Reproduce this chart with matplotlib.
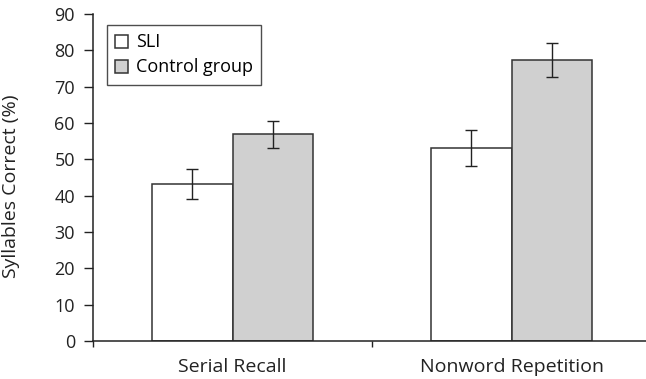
import numpy as np
import matplotlib
matplotlib.use("Agg")
import matplotlib.pyplot as plt

# data
categories = ["Serial Recall", "Nonword Repetition"]
sli = [43.2, 53.2]
sli_err = [4.2, 5.0]
control = [56.9, 77.3]
control_err = [3.7, 4.6]
yticks = [0, 10, 20, 30, 40, 50, 60, 70, 80, 90]

plt.rcParams["font.family"] = ["Open Sans", "DejaVu Sans"]
plt.rcParams["font.size"] = 13

fig = plt.figure(figsize=(6.46, 3.79), dpi=100)
W, H = 646, 379
ax = fig.add_axes([93 / W, (H - 341) / H, (651 - 93) / W, (341 - 14) / H])

x = np.arange(len(categories))
w = 0.287
err_style = dict(elinewidth=1, ecolor="#222222", capthick=1)
ax.bar(x - w / 2, sli, w, yerr=sli_err, color="white", edgecolor="#333333",
       linewidth=1.1, capsize=4.3, error_kw=err_style, label="SLI", zorder=2)
ax.bar(x + w / 2, control, w, yerr=control_err, color="#d0d0d0", edgecolor="#333333",
       linewidth=1.1, capsize=4.3, error_kw=err_style, label="Control group", zorder=2)

ax.set_xlim(-0.5, 1.5)
ax.set_ylim(0, 90)
ax.set_yticks(yticks)
ax.set_ylabel("Syllables Correct (%)", fontsize=14, color="#222222")
ax.yaxis.set_label_coords(-0.131, 0.474)

# category labels without ticks, boundary ticks pointing down
ax.set_xticks([-0.5, 0.5, 1.5])
ax.set_xticklabels([])
ax.tick_params(axis="x", direction="out", length=4.5, width=1, color="#222222")
ax.tick_params(axis="y", direction="out", length=6.5, width=1, color="#222222",
               labelsize=13, pad=6.5, labelcolor="#222222")
for xi, c in zip(x, categories):
    ax.text(xi, -8.5, c, ha="center", va="baseline", fontsize=14, color="#222222")

for s in ["top", "right"]:
    ax.spines[s].set_visible(False)
for s in ["left", "bottom"]:
    ax.spines[s].set_color("#222222")
    ax.spines[s].set_linewidth(1.1)

leg = ax.legend(loc="upper left", bbox_to_anchor=(0.0245, 0.9654),
                frameon=True, fancybox=False, edgecolor="#222222",
                fontsize=13, handlelength=0.72, handleheight=0.72,
                handletextpad=0.44, borderpad=0.45, labelspacing=0.39,
                borderaxespad=0)
leg.get_frame().set_linewidth(1)

fig.savefig("out.png", dpi=100)
